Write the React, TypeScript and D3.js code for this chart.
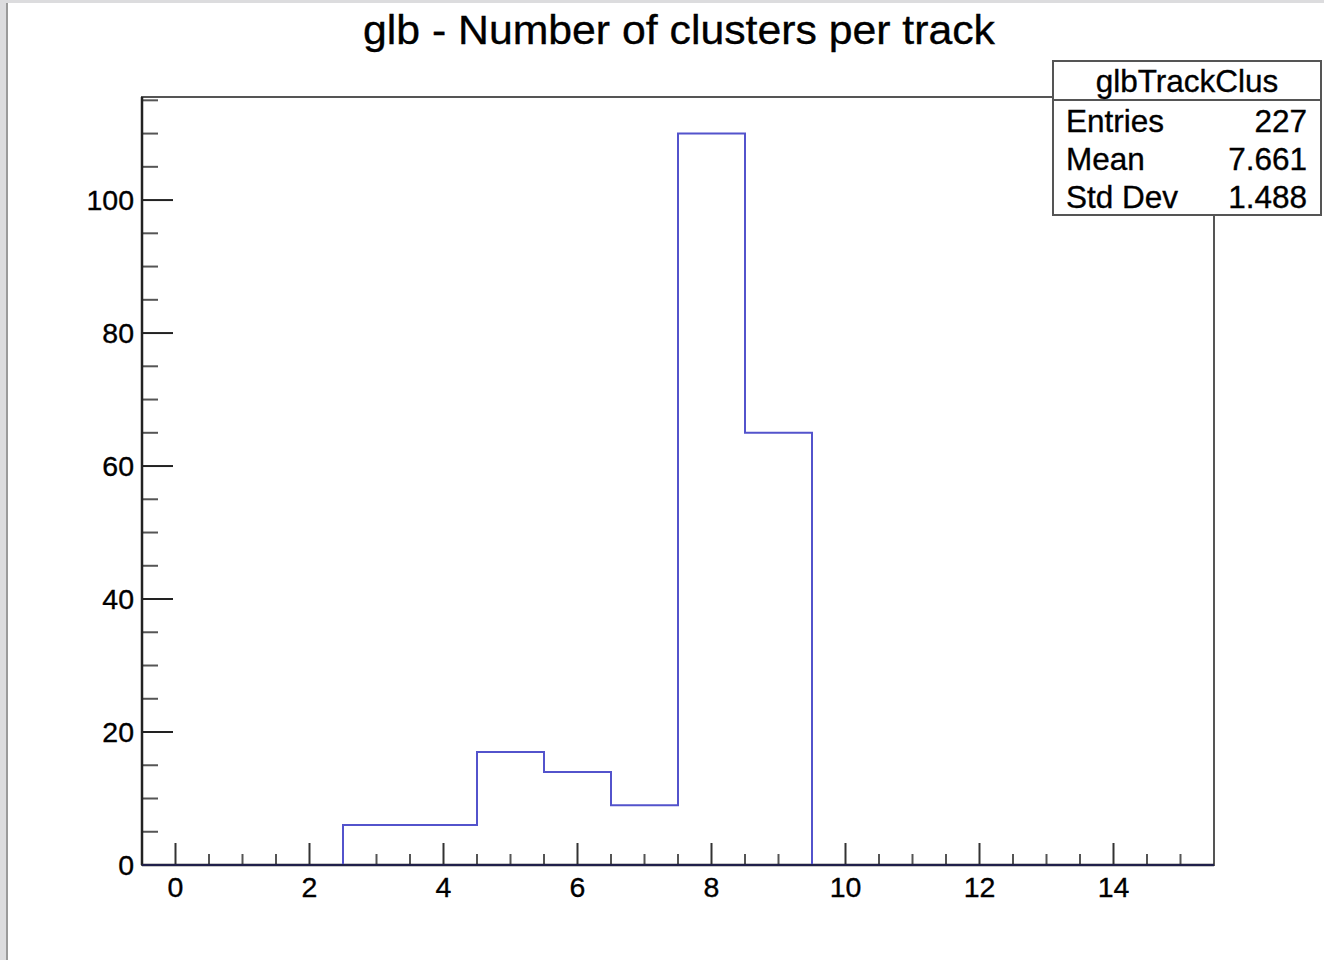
import React from "react";
import * as d3 from "d3";

const binLow: number[] = [-0.5, 0.5, 1.5, 2.5, 3.5, 4.5, 5.5, 6.5, 7.5, 8.5, 9.5, 10.5, 11.5, 12.5, 13.5, 14.5];
const binCounts: number[] = [0, 0, 0, 6, 6, 17, 14, 9, 110, 65, 0, 0, 0, 0, 0, 0];
const xMajorTicks: number[] = [0, 2, 4, 6, 8, 10, 12, 14];
const yMajorTicks: number[] = [0, 20, 40, 60, 80, 100];
const title = "glb - Number of clusters per track";
const statsName = "glbTrackClus";
const statsLabels: string[] = ["Entries", "Mean", "Std Dev"];
const statsValues: string[] = ["227", "7.661", "1.488"];

const W = 1324;
const H = 960;
const FONT = "'Liberation Sans', Arial, Helvetica, sans-serif";

export default function App() {
  const left = 142, right = 1214, top = 97, bottom = 865;
  const binWidth = 1;
  const x = d3.scaleLinear().domain([-0.5, 15.5]).range([left, right]);
  const yMax = d3.max(binCounts)! * 1.05;
  const y = d3.scaleLinear().domain([0, yMax]).range([bottom, top]);

  const pts: [number, number][] = [];
  pts.push([x(binLow[0]), y(0)]);
  binLow.forEach((lo, i) => {
    pts.push([x(lo), y(binCounts[i])]);
    pts.push([x(lo + binWidth), y(binCounts[i])]);
  });
  pts.push([x(binLow[binLow.length - 1] + binWidth), y(0)]);
  const line = d3.line<[number, number]>().x(d => d[0]).y(d => d[1]);

  const xMinor = d3.range(-0.5, 15.51, 0.5).filter(v => v > -0.5 && v < 15.5 && !xMajorTicks.includes(v));
  const yMinor = d3.range(0, yMax, 5).filter(v => !yMajorTicks.includes(v));

  const boxL = 1053, boxR = 1321, boxT = 61, boxB = 215, boxSep = 100;
  const rowY = [121, 159, 197];
  const txt = { fill: "#000", stroke: "#000", strokeWidth: 0.35 };

  return (
    <svg width={W} height={H} style={{ position: "absolute", left: 0, top: 0, display: "block" }} fontFamily={FONT}>
      <rect x={0} y={0} width={W} height={H} fill="#dcdcde" />
      <rect x={6} y={3} width={2} height={H} fill="#9a9a9a" />
      <rect x={8} y={3} width={W - 8} height={H - 3} fill="#ffffff" />

      <text x={679} y={44} textAnchor="middle" fontSize={41} textLength={632} lengthAdjust="spacingAndGlyphs" {...txt}>{title}</text>

      <rect x={left} y={top} width={right - left} height={bottom - top} fill="none" stroke="#555" strokeWidth={2} />

      {yMajorTicks.map(v => (
        <g key={"ym" + v}>
          <line x1={left} x2={left + 31} y1={y(v)} y2={y(v)} stroke="#222" strokeWidth={2} />
          <text x={left - 8} y={y(v) + 10} textAnchor="end" fontSize={28.5} {...txt}>{v}</text>
        </g>
      ))}
      {yMinor.map(v => (
        <line key={"yn" + v} x1={left} x2={left + 16} y1={y(v)} y2={y(v)} stroke="#555" strokeWidth={2} />
      ))}
      <line x1={left} x2={left} y1={top} y2={bottom} stroke="#222" strokeWidth={2.5} />

      {xMajorTicks.map(v => (
        <g key={"xm" + v}>
          <line x1={x(v)} x2={x(v)} y1={bottom} y2={bottom - 22} stroke="#333" strokeWidth={2} />
          <text x={x(v)} y={bottom + 32} textAnchor="middle" fontSize={28.5} {...txt}>{v}</text>
        </g>
      ))}
      {xMinor.map(v => (
        <line key={"xn" + v} x1={x(v)} x2={x(v)} y1={bottom} y2={bottom - 11} stroke="#555" strokeWidth={2} />
      ))}
      <line x1={left} x2={right} y1={bottom} y2={bottom} stroke="#222" strokeWidth={2.5} />

      <path d={line(pts)!} fill="none" stroke="#5353cc" strokeWidth={2} />
      <line x1={left} x2={right} y1={bottom} y2={bottom} stroke="#20204a" strokeWidth={2} />

      <rect x={boxL} y={boxT} width={boxR - boxL} height={boxB - boxT} fill="#fff" stroke="#555" strokeWidth={2} />
      <line x1={boxL} x2={boxR} y1={boxSep} y2={boxSep} stroke="#555" strokeWidth={2} />
      <text x={(boxL + boxR) / 2} y={92} textAnchor="middle" fontSize={31.5} {...txt}>{statsName}</text>
      {statsLabels.map((lab, i) => (
        <g key={lab}>
          <text x={boxL + 13} y={rowY[i] + 11} fontSize={31.5} {...txt}>{lab}</text>
          <text x={boxR - 14} y={rowY[i] + 11} textAnchor="end" fontSize={31.5} {...txt}>{statsValues[i]}</text>
        </g>
      ))}
    </svg>
  );
}
